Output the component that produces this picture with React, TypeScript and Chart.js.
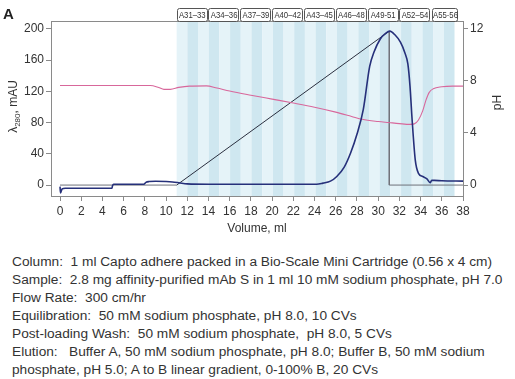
import React, { useEffect, useRef } from "react";
import { Chart, registerables } from "chart.js";

Chart.register(...registerables);

// ---- data ----
const uvVolume = [0, 0.05, 0.2, 0.5, 2, 4.9, 4.95, 5.05, 6, 7.9, 8.1, 8.4, 9, 10, 10.6, 11.2, 12, 14, 20, 24.2, 24.8, 25.5, 26.1, 26.8, 27.4, 28, 28.6, 29.2, 29.6, 30.2, 30.7, 31.1, 31.6, 32.1, 32.5, 32.8, 33.0, 33.2, 33.5, 33.8, 34.2, 34.6, 34.9, 35.05, 35.3, 36, 38];
const uvMau = [-2, -10, -5, -4, -4, -4, -1, 1, 1, 1, 3.5, 4.5, 4.8, 4.5, 4, 3, 1.5, 1, 1, 1, 2.5, 5, 11, 23, 41, 65, 97, 152, 170, 187, 194, 197, 192, 183, 170, 155, 127, 84, 32, 15, 11, 8, 3, 6, 6, 5.5, 5];

const phVolume = [0, 8.5, 9.3, 9.8, 10.4, 11.2, 12.2, 13.8, 14.8, 16, 18, 20, 22, 24, 26, 27.5, 28.5, 30, 31, 32, 33, 33.4, 33.8, 34.2, 34.5, 34.8, 35.2, 36, 37, 38];
const phValues = [7.65, 7.65, 7.5, 7.35, 7.35, 7.5, 7.6, 7.62, 7.45, 7.22, 6.9, 6.6, 6.3, 5.98, 5.6, 5.27, 5.05, 4.88, 4.8, 4.72, 4.66, 4.7, 5.0, 5.7, 6.5, 7.1, 7.4, 7.55, 7.6, 7.6];

const gradientVolume = [0, 11, 31.05, 31.05, 38];
const gradientMau = [0, 0, 197, 0, 0];

const xTickValues = [0, 2, 4, 6, 8, 10, 12, 14, 16, 18, 20, 22, 24, 26, 28, 30, 32, 34, 36, 38];
const yTickValues = [0, 40, 80, 120, 160, 200];
const phTickValues = [0, 4, 8, 12];

const fractionLabels = ["A31–33", "A34–36", "A37–39", "A40–42", "A43–45", "A46–48", "A49-51", "A52–54", "A55-56"];
const fractionLabelStart = [11, 14, 17, 20, 23, 26, 29, 32, 35.1];
const fractionLabelEnd = [13.85, 16.85, 19.85, 22.85, 25.85, 28.85, 31.85, 34.85, 37.5];
const fractionStart = 11;
const fractionEnd = 37.2;
const fractionCount = 26;

const notes = [
  "Column:  1 ml Capto adhere packed in a Bio-Scale Mini Cartridge (0.56 x 4 cm)",
  "Sample:  2.8 mg affinity-purified mAb S in 1 ml 10 mM sodium phosphate, pH 7.0",
  "Flow Rate:  300 cm/hr",
  "Equilibration:  50 mM sodium phosphate, pH 8.0, 10 CVs",
  "Post-loading Wash:  50 mM sodium phosphate,  pH 8.0, 5 CVs",
  "Elution:   Buffer A, 50 mM sodium phosphate, pH 8.0; Buffer B, 50 mM sodium",
  "phosphate, pH 5.0; A to B linear gradient, 0-100% B, 20 CVs",
];

const FONT = "'Liberation Sans', Arial, sans-serif";
const AXIS = "#8a8a8a";
const TEXT = "#333333";

const toPoints = (xs: number[], ys: number[]) => xs.map((x, i) => ({ x, y: ys[i] }));

const decorPlugin = {
  id: "decor",
  beforeDatasetsDraw(chart: any) {
    const { ctx, chartArea, scales } = chart;
    const xs = scales.x;
    ctx.save();
    ctx.beginPath();
    ctx.rect(chartArea.left, chartArea.top, chartArea.right - chartArea.left, chartArea.bottom - chartArea.top);
    ctx.clip();
    const w = (fractionEnd - fractionStart) / fractionCount;
    for (let i = 0; i < fractionCount; i++) {
      const a = xs.getPixelForValue(fractionStart + i * w);
      const b = xs.getPixelForValue(fractionStart + (i + 1) * w);
      ctx.fillStyle = i % 2 === 0 ? "#e5f3f8" : "#cfe7f0";
      ctx.fillRect(a, chartArea.top, b - a, chartArea.bottom - chartArea.top);
    }
    ctx.restore();
  },
  afterDraw(chart: any) {
    const { ctx, chartArea, scales } = chart;
    const xs = scales.x;
    ctx.save();
    // top frame line
    ctx.strokeStyle = AXIS;
    ctx.lineWidth = 1;
    ctx.beginPath();
    ctx.moveTo(chartArea.left, chartArea.top + 0.5);
    ctx.lineTo(chartArea.right, chartArea.top + 0.5);
    ctx.stroke();

    // panel letter
    ctx.fillStyle = "#222";
    ctx.font = `bold 15px ${FONT}`;
    ctx.textAlign = "left";
    ctx.textBaseline = "alphabetic";
    ctx.fillText("A", 3, 19);

    // fraction boxes
    for (let i = 0; i < fractionLabels.length; i++) {
      const a = xs.getPixelForValue(fractionLabelStart[i]);
      const b = xs.getPixelForValue(fractionLabelEnd[i]);
      const top = 8;
      const h = chartArea.top - top;
      ctx.fillStyle = "#ffffff";
      ctx.strokeStyle = "#555";
      ctx.lineWidth = 1;
      ctx.beginPath();
      (ctx as any).roundRect(Math.round(a) + 0.5, top + 0.5, Math.round(b - a), h, 2);
      ctx.fill();
      ctx.stroke();
      ctx.fillStyle = "#333";
      ctx.font = `9px ${FONT}`;
      ctx.textAlign = "center";
      ctx.textBaseline = "middle";
      const cx = (a + b) / 2;
      ctx.save();
      ctx.translate(cx + 0.5, top + h / 2 + 1);
      ctx.scale(0.86, 1);
      ctx.fillText(fractionLabels[i], 0, 0);
      ctx.restore();
    }

    // x title
    ctx.fillStyle = TEXT;
    ctx.font = `12px ${FONT}`;
    ctx.textAlign = "center";
    ctx.textBaseline = "middle";
    ctx.fillText("Volume, ml", (chartArea.left + chartArea.right) / 2, 229);

    // left title with subscript
    ctx.save();
    ctx.translate(14, (chartArea.top + chartArea.bottom) / 2 - 2);
    ctx.rotate(-Math.PI / 2);
    ctx.textBaseline = "middle";
    ctx.textAlign = "left";
    const p1 = "λ";
    const p3 = ", mAU";
    ctx.font = `8px ${FONT}`;
    const wSub = ctx.measureText("280").width;
    ctx.font = `12px ${FONT}`;
    const w1 = ctx.measureText(p1).width;
    const w3 = ctx.measureText(p3).width;
    let x0 = -(w1 + wSub + w3) / 2;
    ctx.fillText(p1, x0, 0);
    x0 += w1;
    ctx.font = `8px ${FONT}`;
    ctx.fillText("280", x0, 4);
    x0 += wSub;
    ctx.font = `12px ${FONT}`;
    ctx.fillText(p3, x0, 0);
    ctx.restore();

    // right title
    ctx.save();
    ctx.translate(498, (chartArea.top + chartArea.bottom) / 2 - 6);
    ctx.rotate(-Math.PI / 2);
    ctx.textAlign = "center";
    ctx.textBaseline = "middle";
    ctx.font = `12px ${FONT}`;
    ctx.fillText("pH", 0, 0);
    ctx.restore();

    ctx.restore();
  },
};

export default function App() {
  const ref = useRef<HTMLCanvasElement | null>(null);

  useEffect(() => {
    document.body.style.margin = "0";
    if (!ref.current) return;
    const tickFont = { family: FONT, size: 12 };
    const axisGrid = { display: true, drawOnChartArea: false, drawTicks: true, tickLength: 5, color: AXIS };
    const chart = new Chart(ref.current, {
      type: "line",
      data: {
        datasets: [
          {
            label: "UV",
            data: toPoints(uvVolume, uvMau),
            borderColor: "#26307a",
            borderWidth: 1.6,
            pointRadius: 0,
            cubicInterpolationMode: "monotone",
            yAxisID: "y",
          },
          {
            label: "pH",
            data: toPoints(phVolume, phValues),
            borderColor: "#d8679b",
            borderWidth: 1.1,
            pointRadius: 0,
            cubicInterpolationMode: "monotone",
            yAxisID: "y1",
          },
          {
            label: "Gradient",
            data: toPoints(gradientVolume, gradientMau),
            borderColor: "#2b3040",
            borderWidth: 1,
            pointRadius: 0,
            tension: 0,
            yAxisID: "y",
            segment: {
              borderColor: (c: any) => (c.p1.parsed.y > c.p0.parsed.y ? "#2b3040" : "#6f727a"),
            },
          },
        ],
      } as any,
      options: {
        responsive: false,
        animation: false,
        events: [],
        layout: { padding: { top: 21, left: 0, right: 0, bottom: 0 } },
        plugins: { legend: { display: false }, tooltip: { enabled: false }, title: { display: false } },
        scales: {
          x: {
            type: "linear",
            min: -0.85,
            max: 38,
            afterBuildTicks: (s: any) => { s.ticks = xTickValues.map((v) => ({ value: v })); },
            afterFit: (s: any) => { s.height = 44; },
            grid: axisGrid,
            border: { display: true, color: AXIS },
            ticks: { font: tickFont, color: TEXT, padding: 3, maxRotation: 0, autoSkip: false },
          },
          y: {
            type: "linear",
            position: "left",
            min: -14,
            max: 210,
            afterBuildTicks: (s: any) => { s.ticks = yTickValues.map((v) => ({ value: v })); },
            afterFit: (s: any) => { s.width = 51; },
            grid: axisGrid,
            border: { display: true, color: AXIS },
            ticks: { font: tickFont, color: TEXT, padding: 2 },
          },
          y1: {
            type: "linear",
            position: "right",
            min: -0.84,
            max: 12.6,
            afterBuildTicks: (s: any) => { s.ticks = phTickValues.map((v) => ({ value: v })); },
            afterFit: (s: any) => { s.width = 52; },
            grid: axisGrid,
            border: { display: true, color: AXIS },
            ticks: { font: tickFont, color: TEXT, padding: 2 },
          },
        },
      } as any,
      plugins: [decorPlugin],
    });
    return () => chart.destroy();
  }, []);

  return (
    <div style={{ position: "relative", width: 515, height: 379, background: "#fff", overflow: "hidden" }}>
      <canvas ref={ref} width={515} height={240} style={{ position: "absolute", left: 0, top: 0, width: 515, height: 240 }} />
      <div
        style={{
          position: "absolute",
          left: 12,
          top: 253,
          fontFamily: FONT,
          fontSize: 13.7,
          lineHeight: "18px",
          color: "#333",
          whiteSpace: "pre",
        }}
      >
        {notes.map((t, i) => (
          <div key={i}>{t}</div>
        ))}
      </div>
    </div>
  );
}
